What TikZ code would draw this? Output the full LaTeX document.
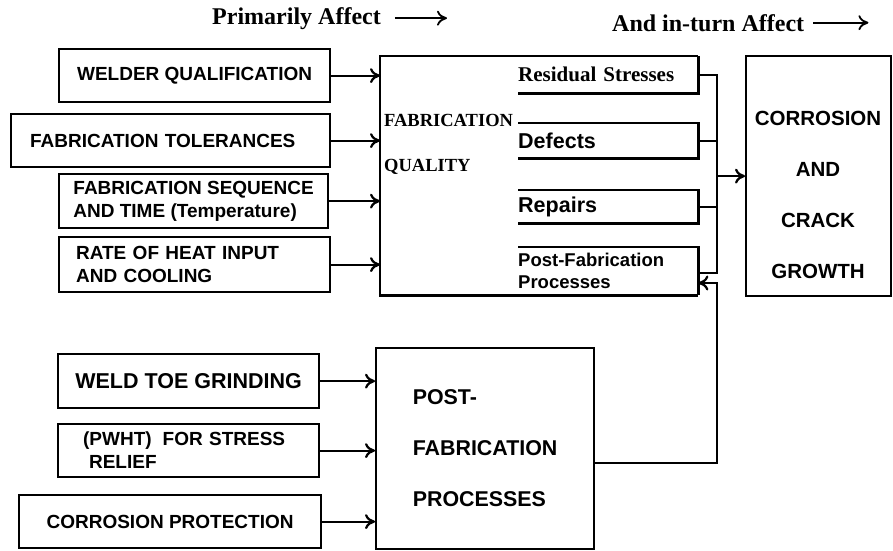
\documentclass[tikz,border=0pt]{standalone}
\usepackage{fontspec}
\setmainfont{Liberation Serif}
\setsansfont{Liberation Sans}
\usetikzlibrary{arrows.meta}

\newcommand{\sansb}[2]{\sffamily\bfseries\fontsize{#1}{#2}\selectfont}
\newcommand{\serifb}[2]{\rmfamily\bfseries\fontsize{#1}{#2}\selectfont}

\begin{document}
\begin{tikzpicture}[x=1pt, y=-1pt, >={To[length=10pt,width=15pt]},
    srcbox/.style={draw, line width=2.2pt, anchor=north west, inner sep=0pt, font=\sansb{19}{23}},
    subbox/.style={anchor=north west, inner sep=0pt, text width=180pt, align=left},
    boxline/.style={line width=2.2pt},
    wire/.style={line width=2.2pt},
    arr/.style={line width=2.2pt, ->},
    thinarr/.style={line width=1.8pt, ->}]
    \useasboundingbox (0,0) rectangle (893,550);

    % headings
    \node [font=\serifb{24}{24}, anchor=base west, inner sep=0pt] (t1) at (212,24) {Primarily Affect};
    \draw [thinarr] ([xshift=14pt]t1.east) -- ++(52,0);
    \node [font=\serifb{24}{24}, anchor=base west, inner sep=0pt] (t2) at (612,31) {And in-turn Affect};
    \draw [thinarr] ([xshift=9pt]t2.east) -- ++(55,0);

    % fabrication inputs
    \node [srcbox, minimum width=271pt, minimum height=53pt] (wq) at (58,48) {WELDER QUALIFICATION};
    \node [srcbox, minimum height=53pt, text width=281pt, inner xsep=19pt, align=left] (ft) at (10,113) {FABRICATION TOLERANCES};
    \node [srcbox, minimum width=269pt, minimum height=54pt, align=left] (fs) at (58,173) {FABRICATION SEQUENCE\\AND TIME (Temperature)};
    \node [srcbox, minimum height=55pt, text width=237pt, inner xsep=17pt, align=left] (rh) at (58,236) {RATE OF HEAT INPUT\\AND COOLING};

    % fabrication quality
    \node [anchor=north west, inner sep=0pt, minimum width=318pt, minimum height=239pt] (fq) at (380,56) {};
    \draw [boxline] (fq.north east) -- (fq.north west) -- (fq.south west) -- (fq.south east);
    \node [font=\serifb{18.5}{45}, align=left, anchor=west, inner sep=0pt] (fqtxt) at (384,144.5) {FABRICATION\\QUALITY};

    \node [subbox, minimum height=37pt, font=\serifb{21}{24}] (rs) at (518,56) {Residual Stresses};
    \node [subbox, minimum height=35pt, font=\sansb{21.5}{24}] (df) at (518,123) {Defects};
    \node [subbox, minimum height=33pt, font=\sansb{21.5}{24}] (rp) at (518,190) {Repairs};
    \node [subbox, minimum height=48pt, font=\sansb{18.5}{22}] (pf) at (518,247) {Post-Fabrication\\Processes};
    \draw [boxline] (rs.south west) -- (rs.south east) -- (rs.north east);
    \foreach \b in {df,rp}
        \draw [boxline] (\b.north west) -- (\b.north east) -- (\b.south east) -- (\b.south west);
    \draw [boxline] (pf.north west) -- (pf.north east) -- (pf.south east);

    \foreach \b in {wq,ft,fs,rh}
        \draw [arr] (\b.east) -- (\b.east -| fq.west);

    % corrosion and crack growth
    \node [srcbox, minimum width=145pt, minimum height=240pt] (ccg) at (745,55) {};
    \node [font=\sansb{20.5}{51}, align=center] (ccgtxt) at (818,195) {CORROSION\\AND\\CRACK\\GROWTH};

    \coordinate (bb) at (717,273);
    \coordinate (ret) at (717,283);
    \draw [wire] (rs.east) -- (rs.east -| bb) -- (bb) -- (bb -| pf.east);
    \foreach \b in {df,rp}
        \draw [wire] (\b.east) -- (\b.east -| bb);
    \draw [arr] (ccg.west -| bb) -- (ccg.west);

    %%%%%%%%%%%%%%%%%%%%
    \node [srcbox, minimum width=261pt, minimum height=54pt, font=\sansb{21.5}{24}] (wtg) at (57,353) {WELD TOE GRINDING};
    \node [srcbox, minimum height=53pt, text width=211pt, inner xsep=25pt, align=left] (pw) at (57,423) {(PWHT)\hspace{11pt}FOR STRESS\\\hspace*{6pt}RELIEF};
    \node [srcbox, minimum width=302pt, minimum height=53pt] (cp) at (18,494) {CORROSION PROTECTION};

    \node [srcbox, minimum width=218pt, minimum height=201pt, align=left, font=\sansb{21.4}{51}] (pfp) at (375,347) {POST-\\FABRICATION\\PROCESSES};

    \foreach \b in {wtg,pw,cp}
        \draw [arr] (\b.east) -- (\b.east -| pfp.west);

    \draw [arr] ([yshift=-14pt]pfp.east) -| (ret) -- (ret -| pf.east);
\end{tikzpicture}
\end{document}
